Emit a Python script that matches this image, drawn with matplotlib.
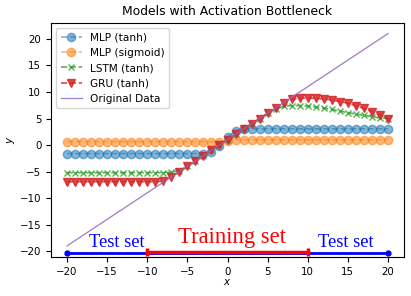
import matplotlib
matplotlib.use("Agg")
import matplotlib.pyplot as plt
import numpy as np

x = list(range(-20, 21))

mlp_tanh = [-1.6] * 18 + [-1.4, -0.2, 1.5, 2.7, 3.0] + [3.05] * 18
mlp_sigmoid = [0.65] * 20 + [0.8] + [1.0] * 20
lstm = ([-5.2] * 13 + [-5.1, -4.8, -4.0, -3.0, -2.0, -1.0, 0.0, 1.0, 2.0, 3.0, 4.0, 5.0, 6.0,
        6.8, 7.3, 7.45, 7.45, 7.3, 7.15, 6.95, 6.7, 6.4, 6.1, 5.85, 5.6, 5.35, 5.1, 5.0])
gru = ([-6.9] * 12 + [-6.8, -6.0, -5.0, -4.0, -3.0, -2.0, -1.0, 0.0, 1.0, 2.0, 3.0, 4.0, 5.0, 6.0,
       7.0, 8.0, 8.6, 8.8, 8.85, 8.8, 8.7, 8.5, 8.2, 7.9, 7.4, 6.9, 6.3, 5.7, 5.0])
orig_x = [-20, 20]
orig_y = [-19, 21]

test_span = [-20, 20]
train_span = [-10, 10]
test_y = -20.4
train_y = -20.1

plt.rcParams['font.size'] = 7.4
fig = plt.figure(figsize=(4.11, 2.96), dpi=100)
ax = fig.add_axes([51/411, 1-257/296, 353/411, 234/296])

kw = dict(alpha=0.55, ms=6, lw=1.2)
ax.plot(x, mlp_tanh, '--o', color='tab:blue', label='MLP (tanh)', **kw)
ax.plot(x, mlp_sigmoid, '--o', color='tab:orange', label='MLP (sigmoid)', **kw)
ax.plot(x, lstm, '--x', color='tab:green', label='LSTM (tanh)', alpha=0.8, ms=5, lw=1.2)
ax.plot(x, gru, '--v', color='tab:red', label='GRU (tanh)', alpha=0.85, ms=6, lw=1.2)
ax.plot(orig_x, orig_y, '-', color='tab:purple', label='Original Data', lw=1.0, alpha=0.8)

ax.plot(test_span, [test_y, test_y], '-', color='blue', lw=2, marker='o', ms=3.5)
ax.plot(train_span, [train_y, train_y], '-', color='red', lw=2.5, marker='|', ms=6, mew=2.5)

serif = ['Liberation Serif', 'DejaVu Serif']
ax.text(-13.8, -19.2, 'Test set', color='blue', ha='center', va='baseline', fontsize=13.3, family=serif)
ax.text(14.75, -19.2, 'Test set', color='blue', ha='center', va='baseline', fontsize=13.3, family=serif)
ax.text(0.56, -18.5, 'Training set', color='red', ha='center', va='baseline', fontsize=16.3, family=serif)

ax.set_xlim(-22, 22)
ax.set_ylim(-21.1, 23.0)
ax.set_xticks(range(-20, 21, 5))
ax.set_yticks(range(-20, 21, 5))
ax.set_xlabel('$x$')
ax.set_ylabel('$y$')
ax.xaxis.set_label_coords(0.5, -0.085)
ax.yaxis.set_label_coords(-0.095, 0.5)
ax.set_title('Models with Activation Bottleneck', fontsize=8.9)
ax.legend(loc='upper left', fontsize=7.6)

fig.savefig('out.png', dpi=100)
